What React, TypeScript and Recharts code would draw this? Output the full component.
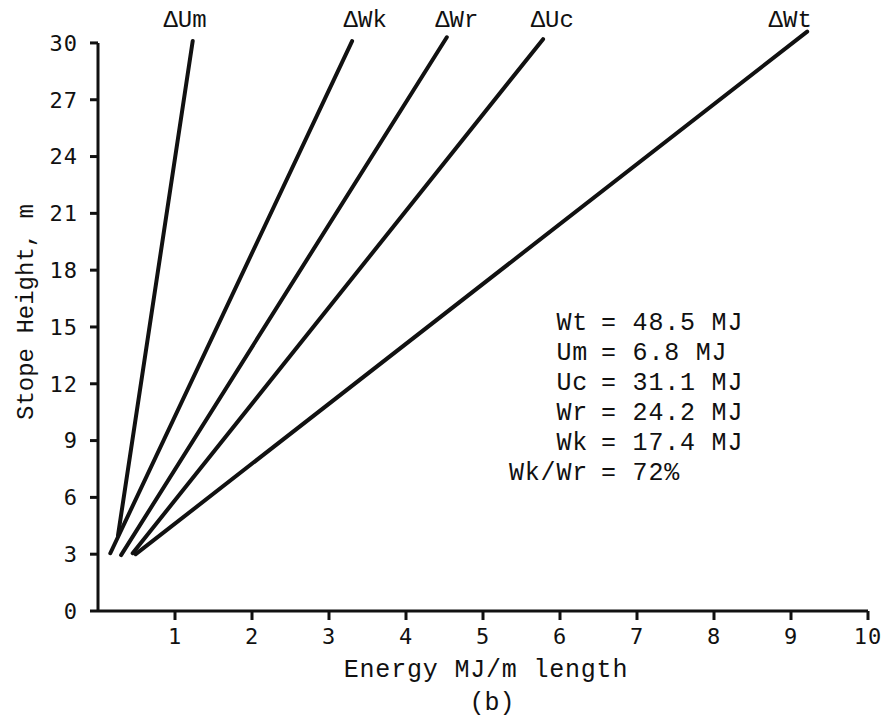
import { LineChart, Line, XAxis, YAxis, ReferenceDot, ReferenceLine } from 'recharts';

// each line: start point near 3 m, end point at ~30 m (MJ/m, m)
const umLine = [
  { x: 0.26, y: 4.0 },
  { x: 1.23, y: 30.1 },
];
const wkLine = [
  { x: 0.16, y: 3.05 },
  { x: 3.3, y: 30.1 },
];
const wrLine = [
  { x: 0.3, y: 2.95 },
  { x: 4.53, y: 30.3 },
];
const ucLine = [
  { x: 0.45, y: 3.05 },
  { x: 5.78, y: 30.2 },
];
const wtLine = [
  { x: 0.49, y: 3.0 },
  { x: 9.21, y: 30.6 },
];

const lineLabels = [
  { name: 'ΔUm', x: 1.13 },
  { name: 'ΔWk', x: 3.47 },
  { name: 'ΔWr', x: 4.66 },
  { name: 'ΔUc', x: 5.9 },
  { name: 'ΔWt', x: 8.99 },
];

const summaryNames = ['Wt', 'Um', 'Uc', 'Wr', 'Wk', 'Wk/Wr'];
const summaryValues = ['48.5 MJ', '6.8 MJ', '31.1 MJ', '24.2 MJ', '17.4 MJ', '72%'];

const yTicks = [0, 3, 6, 9, 12, 15, 18, 21, 24, 27, 30];
const xTicks = [1, 2, 3, 4, 5, 6, 7, 8, 9, 10];

const mono = '"Liberation Mono", "DejaVu Sans Mono", monospace';
const tickFont = '"DejaVu Sans Mono", monospace';
const ink = '#111';

export default function App() {
  return (
    <div style={{ position: 'absolute', left: 0, top: 0, width: 887, height: 724, background: '#fff' }}>
      <LineChart width={887} height={724} margin={{ top: 24, right: 19, bottom: 73, left: 38 }}>
        <XAxis
          type="number"
          dataKey="x"
          domain={[0, 10]}
          ticks={xTicks}
          height={40}
          allowDataOverflow
          stroke={ink}
          strokeWidth={3}
          tickSize={9}
          tickMargin={8}
          tick={{ fill: ink, fontFamily: tickFont, fontSize: 22, letterSpacing: 1 }}
        />
        <YAxis
          type="number"
          dataKey="y"
          domain={[0, 31]}
          ticks={yTicks}
          width={60}
          axisLine={false}
          stroke={ink}
          strokeWidth={3}
          tickSize={8}
          tickMargin={12}
          tick={{ fill: ink, fontFamily: tickFont, fontSize: 22, letterSpacing: 1 }}
        />
        <ReferenceLine
          segment={[
            { x: 0, y: 0 },
            { x: 0, y: 30 },
          ]}
          stroke={ink}
          strokeWidth={3}
          ifOverflow="visible"
        />
        <Line data={umLine} dataKey="y" stroke={ink} strokeWidth={4} strokeLinecap="round" dot={false} isAnimationActive={false} />
        <Line data={wkLine} dataKey="y" stroke={ink} strokeWidth={4} strokeLinecap="round" dot={false} isAnimationActive={false} />
        <Line data={wrLine} dataKey="y" stroke={ink} strokeWidth={4} strokeLinecap="round" dot={false} isAnimationActive={false} />
        <Line data={ucLine} dataKey="y" stroke={ink} strokeWidth={4} strokeLinecap="round" dot={false} isAnimationActive={false} />
        <Line data={wtLine} dataKey="y" stroke={ink} strokeWidth={4} strokeLinecap="round" dot={false} isAnimationActive={false} />
        {lineLabels.map((l) => (
          <ReferenceDot
            key={l.name}
            x={l.x}
            y={31.3}
            r={0}
            ifOverflow="visible"
            label={{ value: l.name, position: 'center', fill: ink, fontFamily: mono, fontSize: 24 }}
          />
        ))}
        <text
          x={26}
          y={312}
          transform="rotate(-90 26 312)"
          textAnchor="middle"
          dominantBaseline="central"
          fill={ink}
          fontFamily={mono}
          fontSize={24}
        >
          Stope Height, m
        </text>
        <text x={486} y={677} textAnchor="middle" fill={ink} fontFamily={mono} fontSize={25} letterSpacing={0.8}>
          Energy MJ/m length
        </text>
        <text x={492} y={710} textAnchor="middle" fill={ink} fontFamily={mono} fontSize={25}>
          (b)
        </text>
        {summaryNames.map((n, i) => (
          <g key={n}>
            <text x={588} y={330 + i * 30} textAnchor="end" fill={ink} fontFamily={mono} fontSize={25} letterSpacing={0.8}>
              {n}
            </text>
            <text x={601} y={330 + i * 30} textAnchor="start" fill={ink} fontFamily={mono} fontSize={25} letterSpacing={0.8}>
              {'= ' + summaryValues[i]}
            </text>
          </g>
        ))}
      </LineChart>
    </div>
  );
}
